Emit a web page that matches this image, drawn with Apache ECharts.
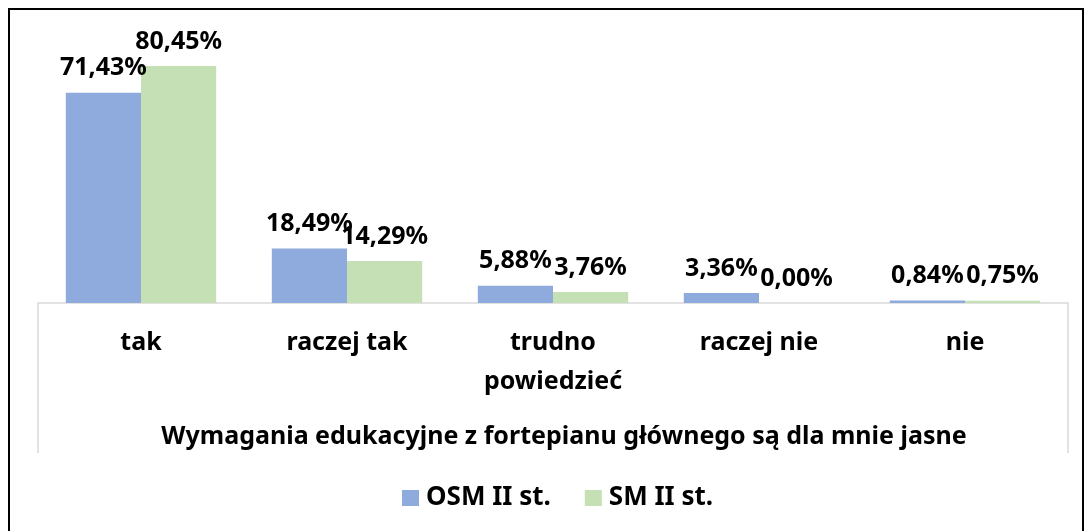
<!DOCTYPE html>
<html>
<head>
<meta charset="utf-8">
<script src="https://cdn.jsdelivr.net/npm/echarts@6/dist/echarts.min.js"></script>
<style>
  body { margin: 0; background: #fff; }
  #chart { width: 1085px; height: 531px; }
  #frame { position: absolute; left: 8px; top: 8px; width: 1072px; height: 540px; border: 2px solid #000; }
</style>
</head>
<body>
<div id="frame"></div>
<div id="chart" style="position:absolute;left:0;top:0"></div>
<script>
// dane z wykresu
const categories = ['tak', 'raczej tak', 'trudno\npowiedzieć', 'raczej nie', 'nie']
const osmValues = [71.43, 18.49, 5.88, 3.36, 0.84]
const smValues = [80.45, 14.29, 3.76, 0.00, 0.75]
const seriesNames = ['OSM II st.', 'SM II st.']
const axisTitle = 'Wymagania edukacyjne z fortepianu głównego są dla mnie jasne'

const font = 'Noto Sans'
const chart = echarts.init(document.getElementById('chart'))

// etykieta w formacie 71,43%
const fmt = p => p.value.toFixed(2).replace('.', ',') + '%'

const labelStyle = {
  show: true,
  position: 'top',
  distance: 12,
  formatter: fmt,
  color: '#000',
  fontFamily: font,
  fontWeight: 'bold',
  fontSize: 25
}

const option = {
  animation: false,
  textStyle: { fontFamily: font },
  grid: { left: 38, right: 17, top: 38, bottom: 228 },
  legend: {
    data: seriesNames,
    left: 397,
    top: 480,
    icon: 'rect',
    itemWidth: 17,
    itemHeight: 16,
    itemGap: 34,
    textStyle: { color: '#000', fontFamily: font, fontWeight: 'bold', fontSize: 26, padding: [0, 0, 0, 2] }
  },
  xAxis: {
    type: 'category',
    data: categories,
    axisLine: { lineStyle: { color: '#d9d9d9', width: 1.5 } },
    axisTick: {
      show: true,
      length: 150,
      interval: (i) => i === 0,
      lineStyle: { color: '#d9d9d9', width: 1.5 }
    },
    axisLabel: {
      interval: 0,
      margin: 20,
      color: '#000',
      fontFamily: font,
      fontWeight: 'bold',
      fontSize: 25,
      lineHeight: 39
    },
    name: axisTitle,
    nameLocation: 'middle',
    nameGap: 121,
    nameTextStyle: { color: '#000', fontFamily: font, fontWeight: 'bold', fontSize: 25, padding: [0, 0, 0, 22] }
  },
  yAxis: {
    type: 'value',
    min: 0,
    max: 90,
    show: false,
    splitLine: { show: false }
  },
  series: [
    {
      name: seriesNames[0],
      type: 'bar',
      data: osmValues,
      barGap: 0,
      barCategoryGap: '27%',
      itemStyle: { color: '#8FAADC' },
      label: labelStyle
    },
    {
      name: seriesNames[1],
      type: 'bar',
      data: smValues,
      itemStyle: { color: '#C5E0B4' },
      label: labelStyle
    }
  ]
}
chart.setOption(option)
</script>
</body>
</html>
